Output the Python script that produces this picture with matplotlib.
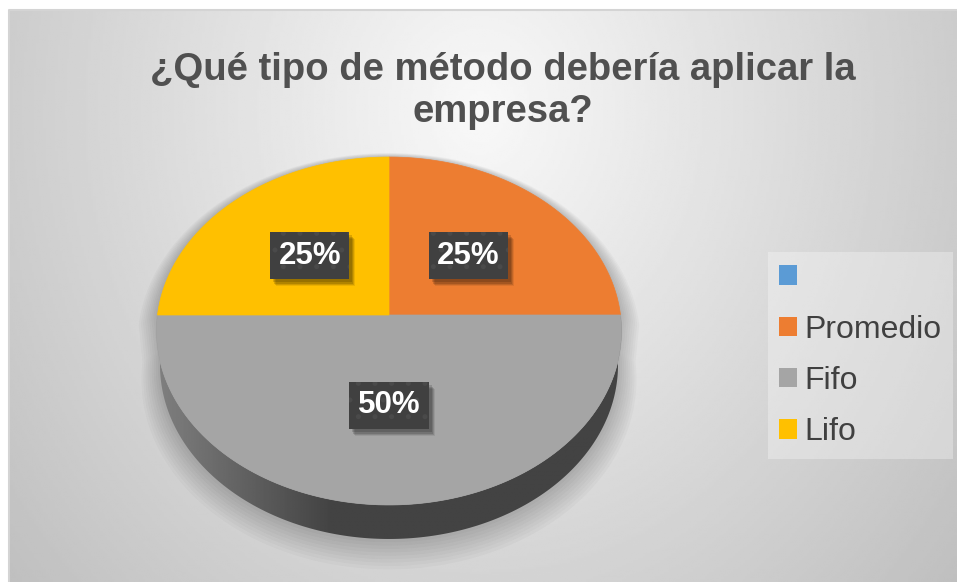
import numpy as np
import matplotlib.pyplot as plt
from matplotlib.patches import Polygon, Patch, Rectangle

plt.rcParams['font.family'] = ['Liberation Sans', 'DejaVu Sans']
plt.rcParams['hatch.linewidth'] = 1.2

# datos
labels = ['', 'Promedio', 'Fifo', 'Lifo']
values = [0, 25, 50, 25]
colors = ['#5B9BD5', '#ED7D31', '#A5A5A5', '#FFC000']
title = '¿Qué tipo de método debería aplicar la\nempresa?'

W, H = 957, 582
# geometria del pastel 3D (perspectiva)
CX, CY = 389, 315
RX, RY = 231.5, 172.5
K = 0.092
DEPTH = 34


def proj(r, ang, depth=0.0, shrink=1.0):
    # proyecta un punto del disco (radio, angulo) a pixeles
    a = np.radians(ang)
    u = r * np.cos(a)
    v = r * np.sin(a)
    w = 1 + K * v
    return CX + RX * shrink * u / w, CY - RY * v / w + depth


fig = plt.figure(figsize=(W / 100, H / 100), dpi=100)
ax = fig.add_axes([0, 0, 1, 1])
ax.set_xlim(0, W)
ax.set_ylim(H, 0)
ax.axis('off')

# fondo con degradado radial
xs = np.linspace(9, W, 400)
ys = np.linspace(10, H, 250)
X, Y = np.meshgrid(xs, ys)
d = np.hypot((X - 480) / 580, (Y - 110) / 680)
g = np.clip(0.975 - 0.21 * d, 0, 1)
ax.imshow(g, cmap='gray', vmin=0, vmax=1, extent=[9, W, H, 10],
          aspect='auto', zorder=0, interpolation='bilinear')
ax.plot([9, 9, W], [H, 10, 10], color='#d4d4d4', lw=1.5, zorder=1)

# sombra difusa alrededor del pastel
back = np.linspace(0, 180, 200)
front = np.linspace(180, 360, 200)
sil = np.array([proj(1, a) for a in back] + [proj(1, a, DEPTH, 0.985) for a in front])
cen = np.array([CX, CY + DEPTH / 2])
for i in range(1, 10):
    pts = cen + (sil - cen) * np.array([1 + 0.009 * i, 1 + 0.010 * i]) + np.array([0, 1.3 * i])
    ax.add_patch(Polygon(pts, closed=True, fc='black', ec='none', alpha=0.022, zorder=2))

# lateral del pastel con degradado
arc = np.linspace(0, -180, 300)
top_edge = [proj(1, a) for a in arc]
bot_edge = [proj(1, a, DEPTH, 0.985) for a in arc[::-1]]
side = Polygon(top_edge + bot_edge, closed=True, fc='none', ec='none', zorder=3)
ax.add_patch(side)
gx = np.linspace(150, 630, 300)
shade = 0.265 + 0.23 * np.clip((330 - gx) / 170, 0, 1)
im = ax.imshow(shade[np.newaxis, :], cmap='gray', vmin=0, vmax=1,
               extent=[150, 630, 570, CY - 10],
               aspect='auto', zorder=3, interpolation='bilinear')
im.set_clip_path(side)

# cara superior: porciones
total = sum(values)
start = 90.0
spans = []
for lab, v, c in zip(labels, values, colors):
    a0 = start
    a1 = start - 360.0 * v / total
    spans.append((a0, a1))
    start = a1
    if v == 0:
        continue
    pts = [(CX, CY)] + [proj(1, a) for a in np.linspace(a0, a1, 120)]
    ax.add_patch(Polygon(pts, closed=True, fc=c, ec=c, lw=0.5, zorder=4))

# etiquetas de porcentaje
pct_texts = []
for v, (a0, a1) in zip(values, spans):
    if v == 0:
        continue
    x, y = proj(0.5, (a0 + a1) / 2)
    t = ax.text(x, y, f'{v / total:.0%}', ha='center', va='center', fontsize=22.5,
                fontweight='bold', color='white', zorder=6,
                bbox=dict(boxstyle='square,pad=0.27', fc='#404040', ec='#4a4a4a',
                          lw=0, hatch='.'))
    pct_texts.append(t)

# titulo
ax.text(503, 52, title, ha='center', va='top', fontsize=27.5, fontweight='bold',
        color='#505050', linespacing=1.2, zorder=6)

# leyenda
handles = [Patch(facecolor=c, edgecolor='none') for c in colors]
leg = ax.legend(handles, labels, loc='upper left',
                bbox_to_anchor=(768 / W, 1 - 252 / H), bbox_transform=fig.transFigure,
                borderaxespad=0, fontsize=23, labelcolor='#404040',
                handlelength=0.55, handleheight=0.55, handletextpad=0.25,
                labelspacing=0.67, borderpad=0.35, fancybox=False, frameon=True)
leg.get_frame().set_facecolor('white')
leg.get_frame().set_alpha(0.3)
leg.get_frame().set_edgecolor('none')
leg.set_zorder(7)

# sombra de las cajas de etiquetas (en pixeles de pantalla)
fig.canvas.draw()
for t in pct_texts:
    bb = t.get_bbox_patch().get_window_extent()
    for dx, dy, al in [(6, -7, 0.08), (5, -6, 0.12), (4, -5, 0.14), (3, -3, 0.14)]:
        fig.add_artist(Rectangle((bb.x0 + dx, bb.y0 + dy), bb.width, bb.height,
                                 transform=None, fc='black', ec='none', alpha=al,
                                 zorder=0.5))
    # la caja y el texto se dibujan encima de la sombra
    t.set_zorder(6)

# las sombras van en la figura: se reordenan para quedar bajo las etiquetas
for t in pct_texts:
    t.remove()
    fig.add_artist(t)
    t.set_zorder(1)

fig.savefig('out.png', dpi=100)
